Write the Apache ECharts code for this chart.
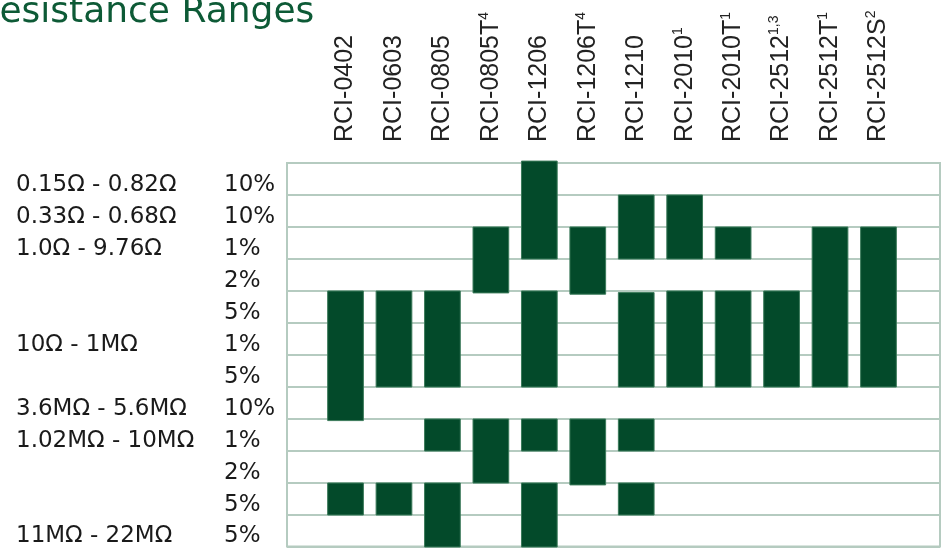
<!DOCTYPE html>
<html>
<head>
<meta charset="utf-8">
<script src="https://cdn.jsdelivr.net/npm/echarts@6/dist/echarts.min.js"></script>
<style>html,body{margin:0;padding:0;background:#fff}#c{width:942px;height:548px}</style>
</head>
<body>
<div id="c"></div>
<script>
const colNames = ['RCI-0402','RCI-0603','RCI-0805','RCI-0805T','RCI-1206','RCI-1206T','RCI-1210','RCI-2010','RCI-2010T','RCI-2512','RCI-2512T','RCI-2512S'];
const colNotes = ['','','','4','','4','','1','1','1,3','1','2'];
const rangeLabels = ['0.15Ω - 0.82Ω','0.33Ω - 0.68Ω','1.0Ω - 9.76Ω','','','10Ω - 1MΩ','','3.6MΩ - 5.6MΩ','1.02MΩ - 10MΩ','','','11MΩ - 22MΩ'];
const toleranceLabels = ['10%','10%','1%','2%','5%','1%','5%','10%','1%','2%','5%','5%'];
// each bar: column index, first row edge, last row edge (rows counted from top)
const barColumn = [0,0, 1,1, 2,2,2, 3,3, 4,4,4,4, 5,5, 6,6,6,6, 7,7, 8,8, 9, 10, 11];
const barStart  = [4,10, 4,10, 4,8,10, 2,8, -0.06,4,8,10, 2,8, 1,4.05,8,10, 1,4, 2,4, 4, 2, 2];
const barEnd    = [8.05,11, 7,11, 7,9,12, 4.06,10, 3,7,9,12, 4.1,10.06, 3,7,9,11, 3,7, 3,7, 7, 7, 7];

const GRID_LINE = '#b5cbc0';
const BAR = '#034a2a';

const barData = barColumn.map((c, i) => [c, barStart[i], barEnd[i]]);

const rowLabelStyle = {interval: 0, align: 'left', verticalAlign: 'top', lineHeight: 12,
  color: '#1a1a1a', fontSize: 23, fontFamily: 'DejaVu Sans'};

const chart = echarts.init(document.getElementById('c'), null, {renderer: 'canvas'});
chart.setOption({
  animation: false,
  backgroundColor: '#fff',
  title: {
    text: 'Resistance Ranges',
    left: -29, top: -10,
    textStyle: {color: '#0d5a36', fontSize: 36, fontWeight: 'normal', fontFamily: 'DejaVu Sans'}
  },
  grid: [
    {left: 287, right: 2, top: 163, bottom: 1, show: true, borderColor: GRID_LINE, borderWidth: 2, containLabel: false},
    {left: 321.3, right: 39.3, top: 163, bottom: 1, containLabel: false}
  ],
  xAxis: [
    {type: 'value', gridIndex: 0, show: false, min: 0, max: 1},
    {
      type: 'category', gridIndex: 1, position: 'top', data: colNames,
      axisLine: {show: false}, axisTick: {show: false}, splitLine: {show: false},
      axisLabel: {
        rotate: 90, margin: 21, interval: 0,
        color: '#222', fontSize: 25, fontFamily: 'Liberation Sans',
        formatter: (v, i) => colNotes[i] ? `{n|${v}}{s|${colNotes[i]}}` : `{n|${v}}`,
        rich: {
          n: {fontSize: 25, fontFamily: 'Liberation Sans', color: '#222', lineHeight: 28},
          s: {fontSize: 14, fontFamily: 'Liberation Sans', color: '#222', verticalAlign: 'top', lineHeight: 28}
        }
      }
    }
  ],
  yAxis: [
    {
      type: 'category', gridIndex: 0, position: 'left', inverse: true, data: rangeLabels,
      axisLine: {show: false}, axisTick: {show: false},
      splitLine: {show: true, lineStyle: {color: GRID_LINE, width: 2}},
      axisLabel: Object.assign({margin: 271}, rowLabelStyle)
    },
    {
      type: 'category', gridIndex: 0, position: 'left', offset: 0, inverse: true, data: toleranceLabels,
      axisLine: {show: false}, axisTick: {show: false}, splitLine: {show: false},
      axisLabel: Object.assign({margin: 63}, rowLabelStyle)
    },
    {type: 'value', gridIndex: 1, min: 0, max: 12, inverse: true, show: false}
  ],
  series: [{
    type: 'custom',
    xAxisIndex: 1, yAxisIndex: 2,
    data: barData,
    renderItem: function (params, api) {
      const c = api.value(0);
      const p0 = api.coord([c, api.value(1)]);
      const p1 = api.coord([c, api.value(2)]);
      const w = api.size([1, 0])[0] * 0.737;
      return {
        type: 'rect',
        shape: {x: p0[0] - w / 2, y: p0[1], width: w, height: p1[1] - p0[1]},
        style: {fill: BAR, stroke: '#3b7a5a', lineWidth: 1}
      };
    }
  }]
});
</script>
</body>
</html>
